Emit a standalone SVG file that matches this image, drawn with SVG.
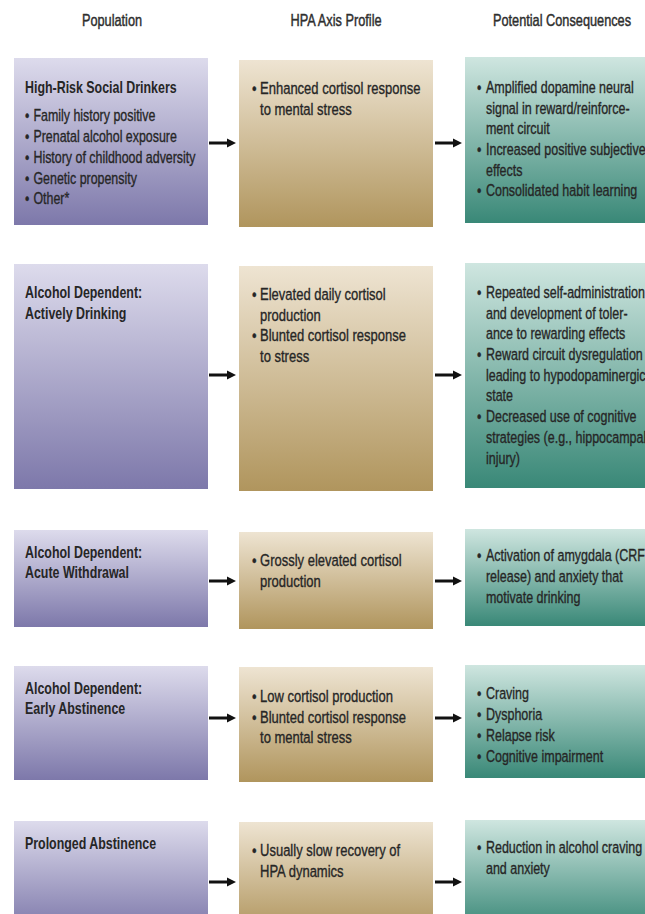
<svg xmlns="http://www.w3.org/2000/svg" width="645" height="914" viewBox="0 0 645 914">
<defs>
<linearGradient id="gPurple" x1="0" y1="0" x2="0" y2="1">
<stop offset="0" stop-color="#dddbec"/>
<stop offset="1" stop-color="#7d78aa"/>
</linearGradient>
<linearGradient id="gTan" x1="0" y1="0" x2="0" y2="1">
<stop offset="0" stop-color="#eee4d2"/>
<stop offset="1" stop-color="#b0955d"/>
</linearGradient>
<linearGradient id="gTeal" x1="0" y1="0" x2="0" y2="1">
<stop offset="0" stop-color="#cfe6e0"/>
<stop offset="1" stop-color="#398877"/>
</linearGradient>
<marker id="arrowhead" markerUnits="userSpaceOnUse" markerWidth="10" markerHeight="10" refX="1" refY="5" orient="auto">
<path d="M0,0.5 L9,5 L0,9.5 Z" fill="#111"/>
</marker>
<style>
text{font-family:"Liberation Sans",Arial,sans-serif;font-size:17px;fill:#262626;stroke:#262626;stroke-width:0.35}
.hdr{font-size:17px;text-anchor:middle;fill:#2e2e2e;stroke:#2e2e2e;stroke-width:0.45}
.h{font-weight:bold;stroke-width:0}
.purple{fill:url(#gPurple)}
.tan{fill:url(#gTan)}
.teal{fill:url(#gTeal)}
.conn{stroke:#111;stroke-width:3;fill:none;marker-end:url(#arrowhead)}
</style>
</defs>
<rect width="645" height="914" fill="#fff"/>

<g id="headers">
<text class="hdr" transform="translate(112,26) scale(0.75,1)">Population</text>
<text class="hdr" transform="translate(336,26) scale(0.75,1)">HPA Axis Profile</text>
<text class="hdr" transform="translate(562,26) scale(0.75,1)">Potential Consequences</text>
</g>

<!-- Row 1 -->
<g id="pop1">
<rect class="purple" x="14" y="58" width="194" height="167"/>
<g transform="translate(25,0) scale(0.73,1)">
<text class="h" x="0" y="93">High-Risk Social Drinkers</text>
<text y="121.5"><tspan x="0">•</tspan><tspan x="11.6">Family history positive</tspan></text>
<text y="142.2"><tspan x="0">•</tspan><tspan x="11.6">Prenatal alcohol exposure</tspan></text>
<text y="162.9"><tspan x="0">•</tspan><tspan x="11.6">History of childhood adversity</tspan></text>
<text y="183.6"><tspan x="0">•</tspan><tspan x="11.6">Genetic propensity</tspan></text>
<text y="204.3"><tspan x="0">•</tspan><tspan x="11.6">Other*</tspan></text>
</g>
</g>
<g id="hpa1">
<rect class="tan" x="239" y="60" width="194" height="167"/>
<g transform="translate(252,0) scale(0.765,1)">
<text y="94.5"><tspan x="0">•</tspan><tspan x="10.5">Enhanced cortisol response</tspan></text>
<text x="10.5" y="115.2">to mental stress</text>
</g>
</g>
<g id="cons1">
<rect class="teal" x="465" y="57" width="200" height="166"/>
<g transform="translate(477,0) scale(0.735,1)">
<text y="93"><tspan x="0">•</tspan><tspan x="12.2">Amplified dopamine neural</tspan></text>
<text x="12.2" y="113.7">signal in reward/reinforce-</text>
<text x="12.2" y="134.4">ment circuit</text>
<text y="155.1"><tspan x="0">•</tspan><tspan x="12.2">Increased positive subjective</tspan></text>
<text x="12.2" y="175.8">effects</text>
<text y="196.5"><tspan x="0">•</tspan><tspan x="12.2">Consolidated habit learning</tspan></text>
</g>
</g>

<!-- Row 2 -->
<g id="pop2">
<rect class="purple" x="14" y="264" width="194" height="225"/>
<g transform="translate(25,0) scale(0.73,1)">
<text class="h" x="0" y="298.5">Alcohol Dependent:</text>
<text class="h" x="0" y="319.5">Actively Drinking</text>
</g>
</g>
<g id="hpa2">
<rect class="tan" x="239" y="266" width="194" height="225"/>
<g transform="translate(252,0) scale(0.765,1)">
<text y="300"><tspan x="0">•</tspan><tspan x="10.5">Elevated daily cortisol</tspan></text>
<text x="10.5" y="320.7">production</text>
<text y="341.4"><tspan x="0">•</tspan><tspan x="10.5">Blunted cortisol response</tspan></text>
<text x="10.5" y="362.1">to stress</text>
</g>
</g>
<g id="cons2">
<rect class="teal" x="465" y="263" width="200" height="225"/>
<g transform="translate(477,0) scale(0.735,1)">
<text y="298"><tspan x="0">•</tspan><tspan x="12.2">Repeated self-administration</tspan></text>
<text x="12.2" y="318.7">and development of toler-</text>
<text x="12.2" y="339.4">ance to rewarding effects</text>
<text y="360.1"><tspan x="0">•</tspan><tspan x="12.2">Reward circuit dysregulation</tspan></text>
<text x="12.2" y="380.8">leading to hypodopaminergic</text>
<text x="12.2" y="401.5">state</text>
<text y="422.2"><tspan x="0">•</tspan><tspan x="12.2">Decreased use of cognitive</tspan></text>
<text x="12.2" y="442.9">strategies (e.g., hippocampal</text>
<text x="12.2" y="463.6">injury)</text>
</g>
</g>

<!-- Row 3 -->
<g id="pop3">
<rect class="purple" x="14" y="530" width="194" height="97"/>
<g transform="translate(25,0) scale(0.73,1)">
<text class="h" x="0" y="558">Alcohol Dependent:</text>
<text class="h" x="0" y="578.5">Acute Withdrawal</text>
</g>
</g>
<g id="hpa3">
<rect class="tan" x="239" y="532" width="194" height="97"/>
<g transform="translate(252,0) scale(0.765,1)">
<text y="566"><tspan x="0">•</tspan><tspan x="10.5">Grossly elevated cortisol</tspan></text>
<text x="10.5" y="586.7">production</text>
</g>
</g>
<g id="cons3">
<rect class="teal" x="465" y="529" width="200" height="97"/>
<g transform="translate(477,0) scale(0.735,1)">
<text y="561.5"><tspan x="0">•</tspan><tspan x="12.2">Activation of amygdala (CRF</tspan></text>
<text x="12.2" y="582.2">release) and anxiety that</text>
<text x="12.2" y="602.9">motivate drinking</text>
</g>
</g>

<!-- Row 4 -->
<g id="pop4">
<rect class="purple" x="14" y="666" width="194" height="114"/>
<g transform="translate(25,0) scale(0.73,1)">
<text class="h" x="0" y="694">Alcohol Dependent:</text>
<text class="h" x="0" y="714.5">Early Abstinence</text>
</g>
</g>
<g id="hpa4">
<rect class="tan" x="239" y="667" width="194" height="115"/>
<g transform="translate(252,0) scale(0.765,1)">
<text y="702"><tspan x="0">•</tspan><tspan x="10.5">Low cortisol production</tspan></text>
<text y="722.7"><tspan x="0">•</tspan><tspan x="10.5">Blunted cortisol response</tspan></text>
<text x="10.5" y="743.4">to mental stress</text>
</g>
</g>
<g id="cons4">
<rect class="teal" x="465" y="665" width="200" height="113"/>
<g transform="translate(477,0) scale(0.735,1)">
<text y="699.5"><tspan x="0">•</tspan><tspan x="12.2">Craving</tspan></text>
<text y="720.2"><tspan x="0">•</tspan><tspan x="12.2">Dysphoria</tspan></text>
<text y="740.9"><tspan x="0">•</tspan><tspan x="12.2">Relapse risk</tspan></text>
<text y="761.6"><tspan x="0">•</tspan><tspan x="12.2">Cognitive impairment</tspan></text>
</g>
</g>

<!-- Row 5 -->
<g id="pop5">
<rect class="purple" x="14" y="821" width="194" height="110"/>
<g transform="translate(25,0) scale(0.73,1)">
<text class="h" x="0" y="849">Prolonged Abstinence</text>
</g>
</g>
<g id="hpa5">
<rect class="tan" x="239" y="822" width="194" height="110"/>
<g transform="translate(252,0) scale(0.765,1)">
<text y="856"><tspan x="0">•</tspan><tspan x="10.5">Usually slow recovery of</tspan></text>
<text x="10.5" y="876.7">HPA dynamics</text>
</g>
</g>
<g id="cons5">
<rect class="teal" x="465" y="820" width="200" height="110"/>
<g transform="translate(477,0) scale(0.735,1)">
<text y="853"><tspan x="0">•</tspan><tspan x="12.2">Reduction in alcohol craving</tspan></text>
<text x="12.2" y="873.7">and anxiety</text>
</g>
</g>

<g id="connectors">
<line class="conn" x1="209" y1="143" x2="228" y2="143"/>
<line class="conn" x1="435" y1="143" x2="454" y2="143"/>
<line class="conn" x1="209" y1="375" x2="228" y2="375"/>
<line class="conn" x1="435" y1="375" x2="454" y2="375"/>
<line class="conn" x1="209" y1="581" x2="228" y2="581"/>
<line class="conn" x1="435" y1="581" x2="454" y2="581"/>
<line class="conn" x1="209" y1="718" x2="228" y2="718"/>
<line class="conn" x1="435" y1="718" x2="454" y2="718"/>
<line class="conn" x1="209" y1="882" x2="228" y2="882"/>
<line class="conn" x1="435" y1="882" x2="454" y2="882"/>
</g>
</svg>
